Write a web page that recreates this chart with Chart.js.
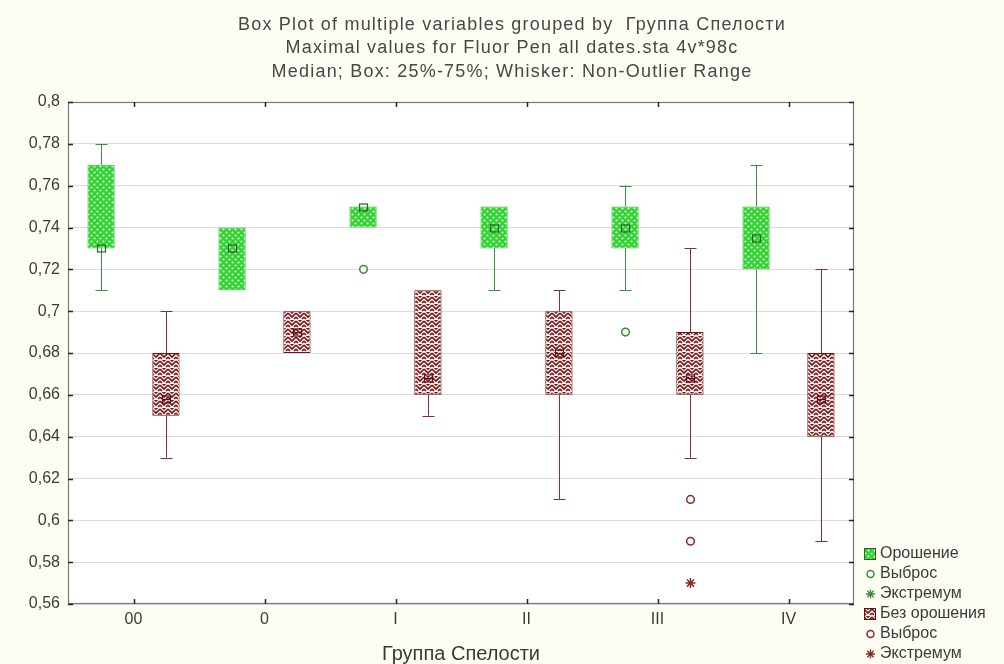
<!DOCTYPE html>
<html>
<head>
<meta charset="utf-8">
<script src="https://cdn.jsdelivr.net/npm/chart.js@4.4.1/dist/chart.umd.min.js"></script>
<style>
  html, body { margin: 0; padding: 0; background: #fdfdf4; }
  canvas { display: block; }
</style>
</head>
<body>
<canvas id="chart" width="1004" height="664"></canvas>
<script>
// Groups along the x axis
const categories = ['00', '0', 'I', 'II', 'III', 'IV'];

// Орошение: min, quartiles, median, max of the non-outlier range
const irrMin = [0.71, 0.71, 0.74, 0.71, 0.71, 0.68];
const irrQ1  = [0.73, 0.71, 0.74, 0.73, 0.73, 0.72];
const irrMed = [0.73, 0.73, 0.75, 0.74, 0.74, 0.735];
const irrQ3  = [0.77, 0.74, 0.75, 0.75, 0.75, 0.75];
const irrMax = [0.78, 0.74, 0.75, 0.75, 0.76, 0.77];
const irrOutliers = [[], [], [0.72], [], [0.69], []];
const irrExtremes = [[], [], [], [], [], []];

// Без орошения
const dryMin = [0.63, 0.68, 0.65, 0.61, 0.63, 0.59];
const dryQ1  = [0.65, 0.68, 0.66, 0.66, 0.66, 0.64];
const dryMed = [0.658, 0.69, 0.668, 0.68, 0.668, 0.658];
const dryQ3  = [0.68, 0.70, 0.71, 0.70, 0.69, 0.68];
const dryMax = [0.70, 0.70, 0.71, 0.71, 0.73, 0.72];
const dryOutliers = [[], [], [], [], [0.61, 0.59], []];
const dryExtremes = [[], [], [], [], [0.57], []];

// Axis ticks
const yTickValues = [0.56, 0.58, 0.60, 0.62, 0.64, 0.66, 0.68, 0.70, 0.72, 0.74, 0.76, 0.78, 0.80];
const yTickLabels = ['0,56', '0,58', '0,6', '0,62', '0,64', '0,66', '0,68', '0,7', '0,72', '0,74', '0,76', '0,78', '0,8'];

const titleLines = [
  'Box Plot of multiple variables grouped by  Группа Спелости',
  'Maximal values for Fluor Pen all dates.sta 4v*98c',
  'Median; Box: 25%-75%; Whisker: Non-Outlier Range'
];
const xTitle = 'Группа Спелости';
const legendLabels = ['Орошение', 'Выброс', 'Экстремум', 'Без орошения', 'Выброс', 'Экстремум'];

const FONT = '"Liberation Sans", Arial, sans-serif';
const TEXT = '#3a3a3a';

const canvas = document.getElementById('chart');
const ctx = canvas.getContext('2d');

function greenPattern() {
  const t = document.createElement('canvas');
  t.width = 6; t.height = 6;
  const g = t.getContext('2d');
  g.fillStyle = '#2fd42f';
  g.fillRect(0, 0, 6, 6);
  g.fillStyle = 'rgba(255,255,255,0.85)';
  g.beginPath(); g.arc(1.5, 1.5, 1.1, 0, Math.PI * 2); g.fill();
  g.beginPath(); g.arc(4.5, 4.5, 1.1, 0, Math.PI * 2); g.fill();
  return ctx.createPattern(t, 'repeat');
}

function redPattern() {
  const t = document.createElement('canvas');
  t.width = 8; t.height = 8;
  const g = t.getContext('2d');
  g.fillStyle = '#ffffff';
  g.fillRect(0, 0, 8, 8);
  g.strokeStyle = '#7c1515';
  g.lineWidth = 1.7;
  g.beginPath();
  g.moveTo(0, 1); g.lineTo(4, 5); g.lineTo(8, 1);
  g.moveTo(0, 5); g.lineTo(2, 7);
  g.moveTo(6, 7); g.lineTo(8, 5);
  g.moveTo(2, -1); g.lineTo(4, 1); g.lineTo(6, -1);
  g.stroke();
  return ctx.createPattern(t, 'repeat');
}

const GREEN_FILL = greenPattern();
const RED_FILL = redPattern();

const series = [
  {
    label: 'Орошение', min: irrMin, q1: irrQ1, med: irrMed, q3: irrQ3, max: irrMax,
    outliers: irrOutliers, extremes: irrExtremes,
    fill: GREEN_FILL, border: '#2cc82c', whisker: '#3f8f3f', marker: '#2b5f2b', point: '#3c8a3c'
  },
  {
    label: 'Без орошения', min: dryMin, q1: dryQ1, med: dryMed, q3: dryQ3, max: dryMax,
    outliers: dryOutliers, extremes: dryExtremes,
    fill: RED_FILL, border: '#6e1212', whisker: '#843030', marker: '#5e0e0e', point: '#8a2a2a'
  }
];

function drawStar(c, x, y, r) {
  c.beginPath();
  for (let k = 0; k < 4; k++) {
    const a = k * Math.PI / 4;
    c.moveTo(x - r * Math.cos(a), y - r * Math.sin(a));
    c.lineTo(x + r * Math.cos(a), y + r * Math.sin(a));
  }
  c.stroke();
}

// Cream page, white plotting area
const backgroundPlugin = {
  id: 'backgroundPlugin',
  beforeDraw(chart) {
    const c = chart.ctx, a = chart.chartArea;
    c.save();
    c.fillStyle = '#fdfdf4';
    c.fillRect(0, 0, chart.width, chart.height);
    c.fillStyle = '#ffffff';
    c.fillRect(a.left, a.top, a.right - a.left, a.bottom - a.top);
    c.restore();
  }
};

// Whiskers, medians, outliers and extremes on top of the boxes
const boxDetailsPlugin = {
  id: 'boxDetailsPlugin',
  afterDatasetsDraw(chart) {
    const c = chart.ctx, y = chart.scales.y;
    c.save();
    series.forEach((s, di) => {
      const meta = chart.getDatasetMeta(di);
      meta.data.forEach((bar, i) => {
        const x = Math.round(bar.x) + 0.5;
        const capHalf = 6;
        c.strokeStyle = s.whisker;
        c.lineWidth = 1;
        const segs = [[s.q3[i], s.max[i]], [s.min[i], s.q1[i]]];
        segs.forEach(([lo, hi]) => {
          if (hi - lo < 1e-9) return;
          const y1 = y.getPixelForValue(lo), y2 = y.getPixelForValue(hi);
          c.beginPath();
          c.moveTo(x, y1); c.lineTo(x, y2);
          c.stroke();
        });
        if (s.max[i] - s.q3[i] > 1e-9) {
          const yy = Math.round(y.getPixelForValue(s.max[i])) + 0.5;
          c.beginPath(); c.moveTo(x - capHalf, yy); c.lineTo(x + capHalf, yy); c.stroke();
        }
        if (s.q1[i] - s.min[i] > 1e-9) {
          const yy = Math.round(y.getPixelForValue(s.min[i])) + 0.5;
          c.beginPath(); c.moveTo(x - capHalf, yy); c.lineTo(x + capHalf, yy); c.stroke();
        }
        // median marker
        const ym = Math.round(y.getPixelForValue(s.med[i])) + 0.5;
        c.strokeStyle = s.marker;
        c.lineWidth = 1.2;
        c.strokeRect(x - 4, ym - 3.5, 8, 7);
        if (di === 1) {
          c.beginPath(); c.moveTo(x - 4, ym); c.lineTo(x + 4, ym); c.stroke();
        }
        // outliers
        c.strokeStyle = s.point;
        c.lineWidth = 1.5;
        s.outliers[i].forEach(v => {
          c.beginPath();
          c.arc(x, y.getPixelForValue(v), 3.8, 0, Math.PI * 2);
          c.fillStyle = '#ffffff';
          c.fill();
          c.stroke();
        });
        s.extremes[i].forEach(v => drawStar(c, x, y.getPixelForValue(v), 5));
      });
    });
    c.restore();
  }
};

// Frame with inward ticks on all four sides
const framePlugin = {
  id: 'framePlugin',
  afterDraw(chart) {
    const c = chart.ctx, a = chart.chartArea, ys = chart.scales.y, xs = chart.scales.x;
    c.save();
    c.strokeStyle = '#7a7a7a';
    c.lineWidth = 1.2;
    c.strokeRect(a.left + 0.5, a.top + 0.5, a.right - a.left - 1, a.bottom - a.top - 1);
    c.strokeStyle = '#222';
    c.lineWidth = 1.5;
    c.beginPath();
    yTickValues.forEach(v => {
      const yy = Math.round(ys.getPixelForValue(v)) + 0.5;
      c.moveTo(a.left, yy); c.lineTo(a.left + 5, yy);
      c.moveTo(a.right, yy); c.lineTo(a.right - 5, yy);
    });
    categories.forEach((_, i) => {
      const xx = Math.round(xs.getPixelForValue(i)) + 0.5;
      c.moveTo(xx, a.bottom); c.lineTo(xx, a.bottom - 5);
      c.moveTo(xx, a.top); c.lineTo(xx, a.top + 5);
    });
    c.stroke();
    c.restore();
  }
};

// Three-line heading
const headingPlugin = {
  id: 'headingPlugin',
  afterDraw(chart) {
    const c = chart.ctx;
    c.save();
    c.fillStyle = '#474747';
    c.font = '18px ' + FONT;
    if ('letterSpacing' in c) c.letterSpacing = '1.2px';
    c.textAlign = 'center';
    c.textBaseline = 'middle';
    const rows = [25, 48, 72];
    titleLines.forEach((t, i) => c.fillText(t, 512, rows[i]));
    c.restore();
  }
};

// Legend block in the lower right corner
const legendPlugin = {
  id: 'legendPlugin',
  afterDraw(chart) {
    const c = chart.ctx;
    c.save();
    c.font = '16px ' + FONT;
    c.textBaseline = 'middle';
    c.textAlign = 'left';
    const x0 = 870, y0 = 554, step = 20;
    legendLabels.forEach((label, i) => {
      const s = series[i < 3 ? 0 : 1];
      const yy = y0 + i * step;
      const kind = i % 3;
      if (kind === 0) {
        c.fillStyle = s.fill;
        c.fillRect(x0 - 6, yy - 6, 12, 12);
        c.strokeStyle = s.marker;
        c.lineWidth = 1;
        c.strokeRect(x0 - 5.5, yy - 5.5, 11, 11);
      } else if (kind === 1) {
        c.strokeStyle = s.point;
        c.lineWidth = 1.5;
        c.beginPath(); c.arc(x0 + 0.5, yy, 3.5, 0, Math.PI * 2); c.stroke();
      } else {
        c.strokeStyle = s.point;
        c.lineWidth = 1.3;
        drawStar(c, x0 + 0.5, yy, 4.5);
      }
      c.fillStyle = TEXT;
      c.fillText(label, x0 + 10, yy);
    });
    c.restore();
  }
};

new Chart(ctx, {
  type: 'bar',
  data: {
    labels: categories,
    datasets: series.map(s => ({
      label: s.label,
      data: s.q1.map((q, i) => [q, s.q3[i]]),
      backgroundColor: s.fill,
      borderColor: s.border,
      borderWidth: 1,
      borderSkipped: false,
      categoryPercentage: 0.99,
      barPercentage: 0.42
    }))
  },
  options: {
    responsive: false,
    animation: false,
    devicePixelRatio: 1,
    layout: { padding: { top: 102, right: 150, left: 0, bottom: 0 } },
    plugins: {
      legend: { display: false },
      title: { display: false },
      tooltip: { enabled: false }
    },
    scales: {
      x: {
        grid: { display: false, drawTicks: false },
        border: { display: false },
        ticks: { color: TEXT, font: { family: FONT, size: 16 }, padding: 6 },
        title: { display: true, text: xTitle, color: TEXT, font: { family: FONT, size: 20, lineHeight: 1 }, padding: { top: 0, bottom: 0 } },
        afterFit(scale) { scale.height = 60; }
      },
      y: {
        min: 0.56,
        max: 0.8,
        afterBuildTicks(scale) { scale.ticks = yTickValues.map(v => ({ value: v })); },
        grid: { color: '#dcdcdc', lineWidth: 1, drawTicks: false },
        border: { display: false },
        ticks: {
          color: TEXT,
          font: { family: FONT, size: 16 },
          padding: 8,
          callback: (value, index) => yTickLabels[index]
        },
        afterFit(scale) { scale.width = 68; }
      }
    }
  },
  plugins: [backgroundPlugin, boxDetailsPlugin, framePlugin, headingPlugin, legendPlugin]
});
</script>
</body>
</html>
